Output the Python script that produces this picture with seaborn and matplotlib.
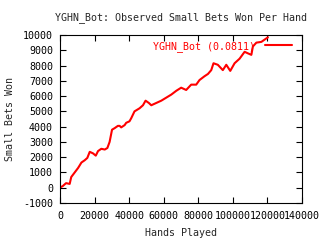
import matplotlib
matplotlib.use("Agg")
import matplotlib.pyplot as plt
import seaborn as sns
import pandas as pd

hands = [0, 1500, 3500, 5600, 6500, 8500, 10500, 12400, 14300, 15800, 17200, 19100,
         20700, 22000, 23900, 25900, 27400, 28700, 30100, 31600, 33500, 34500, 35400,
         37400, 38300, 40200, 41200, 43100, 46000, 48000, 49500, 51400, 52800, 55700,
         58600, 61500, 64400, 67300, 70100, 73000, 75900, 78800, 80700, 83600, 85600,
         87500, 88800, 91300, 94200, 96200, 98500, 101000, 103900, 106800, 108700,
         110700, 111600, 113600, 116500, 118400, 120300]
won = [20, 100, 300, 250, 700, 1000, 1300, 1650, 1800, 1950, 2350, 2250,
       2100, 2400, 2550, 2500, 2600, 3000, 3800, 3900, 4050, 4050, 3950,
       4100, 4250, 4350, 4550, 5000, 5200, 5400, 5700, 5550, 5400, 5550,
       5700, 5900, 6100, 6350, 6550, 6400, 6750, 6750, 7050, 7300, 7450,
       7700, 8150, 8050, 7700, 8050, 7650, 8150, 8450, 8900, 8800,
       8700, 9250, 9500, 9550, 9700, 9850]
label = "YGHN_Bot (0.0811)"
xticks = [0, 20000, 40000, 60000, 80000, 100000, 120000, 140000]
yticks = [-1000, 0, 1000, 2000, 3000, 4000, 5000, 6000, 7000, 8000, 9000, 10000]

df = pd.DataFrame({"Hands Played": hands, "Small Bets Won": won})

sns.set_style("ticks")
plt.rcParams["font.family"] = ["DejaVu Sans Mono"]
fs = 7.2
plt.rcParams["font.size"] = fs

fig = plt.figure(figsize=(3.2, 2.4), dpi=100)
ax = fig.add_axes([60/320, 37/240, 242/320, 168/240])
sns.lineplot(data=df, x="Hands Played", y="Small Bets Won", ax=ax,
             color="#ff0000", linewidth=1.5, label=label)
ax.set_xlim(0, 140000)
ax.set_ylim(-1000, 10000)
ax.set_xticks(xticks)
ax.set_yticks(yticks)
ax.set_xticklabels([str(t) for t in xticks])
ax.set_yticklabels([str(t) for t in yticks])
ax.tick_params(direction="in", length=4, width=0.8, top=True, right=True,
               labelsize=fs, colors="black")
ax.tick_params(axis="x", pad=6)
ax.tick_params(axis="y", pad=5)
for s in ax.spines.values():
    s.set_visible(True)
    s.set_linewidth(0.8)
    s.set_color("black")
ax.set_xlabel("Hands Played", fontsize=fs, labelpad=5)
ax.set_ylabel("Small Bets Won", fontsize=fs, labelpad=6)
ax.set_title("YGHN_Bot: Observed Small Bets Won Per Hand", fontsize=fs, pad=11)
leg = ax.legend(loc="upper right", bbox_to_anchor=(1.0, 1.025), frameon=False,
                markerfirst=False, labelcolor="#ff0000", handlelength=2.7,
                fontsize=fs, borderaxespad=0.6, handletextpad=1.0)
fig.savefig("out.png", dpi=100)
